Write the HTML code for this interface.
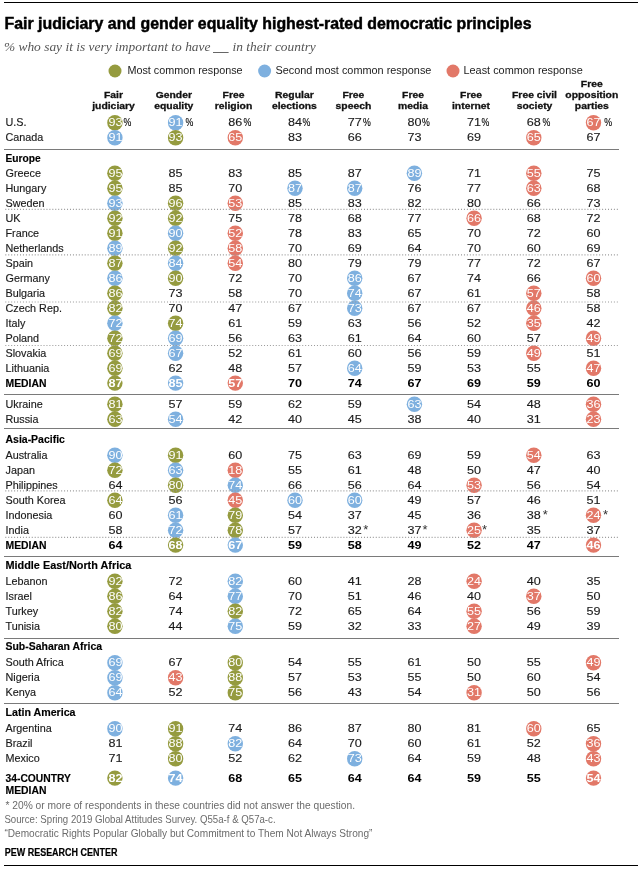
<!DOCTYPE html>
<html><head><meta charset="utf-8"><style>
html,body{margin:0;padding:0;background:#fff;width:640px;height:870px;overflow:hidden}
svg{display:block;will-change:transform}
text{font-family:"Liberation Sans",sans-serif}
</style></head><body>
<svg width="640" height="870" viewBox="0 0 640 870">
<rect width="640" height="870" fill="#fff"/>
<rect x="4" y="2.00" width="634" height="1" fill="#000"/>
<text transform="translate(4.50,28.50)" font-size="16" font-weight="bold" fill="#000" stroke="#000" stroke-width="0.45" textLength="527" lengthAdjust="spacingAndGlyphs">Fair judiciary and gender equality highest-rated democratic principles</text>
<text transform="translate(3.90,50.80)" style="font-family:&quot;Liberation Serif&quot;,serif" font-size="13.2" font-style="italic" fill="#555" textLength="206.6" lengthAdjust="spacingAndGlyphs">% who say it is very important to have</text>
<rect x="213" y="52" width="15.6" height="1" fill="#666"/>
<text transform="translate(232.50,50.80)" style="font-family:&quot;Liberation Serif&quot;,serif" font-size="13.2" font-style="italic" fill="#555" textLength="83.3" lengthAdjust="spacingAndGlyphs">in their country</text>
<circle cx="115.00" cy="71.00" r="6.5" fill="#959b3f"/>
<text transform="translate(127.40,74.20)" font-size="10" fill="#222" textLength="115.2" lengthAdjust="spacingAndGlyphs">Most common response</text>
<circle cx="264.60" cy="71.00" r="6.5" fill="#7eb0df"/>
<text transform="translate(275.40,74.20)" font-size="10" fill="#222" textLength="156" lengthAdjust="spacingAndGlyphs">Second most common response</text>
<circle cx="453.00" cy="71.00" r="6.5" fill="#e27868"/>
<text transform="translate(463.50,74.20)" font-size="10" fill="#222" textLength="119.2" lengthAdjust="spacingAndGlyphs">Least common response</text>
<text transform="translate(113.50,98.00) scale(1.060,1)" font-size="9.8" font-weight="bold" text-anchor="middle" fill="#111" stroke="#111" stroke-width="0.3">Fair</text>
<text transform="translate(113.50,109.25) scale(1.060,1)" font-size="9.8" font-weight="bold" text-anchor="middle" fill="#111" stroke="#111" stroke-width="0.3">judiciary</text>
<text transform="translate(173.80,98.00) scale(1.060,1)" font-size="9.8" font-weight="bold" text-anchor="middle" fill="#111" stroke="#111" stroke-width="0.3">Gender</text>
<text transform="translate(173.80,109.25) scale(1.060,1)" font-size="9.8" font-weight="bold" text-anchor="middle" fill="#111" stroke="#111" stroke-width="0.3">equality</text>
<text transform="translate(233.50,98.00) scale(1.060,1)" font-size="9.8" font-weight="bold" text-anchor="middle" fill="#111" stroke="#111" stroke-width="0.3">Free</text>
<text transform="translate(233.50,109.25) scale(1.060,1)" font-size="9.8" font-weight="bold" text-anchor="middle" fill="#111" stroke="#111" stroke-width="0.3">religion</text>
<text transform="translate(294.40,98.00) scale(1.060,1)" font-size="9.8" font-weight="bold" text-anchor="middle" fill="#111" stroke="#111" stroke-width="0.3">Regular</text>
<text transform="translate(294.40,109.25) scale(1.060,1)" font-size="9.8" font-weight="bold" text-anchor="middle" fill="#111" stroke="#111" stroke-width="0.3">elections</text>
<text transform="translate(353.40,98.00) scale(1.060,1)" font-size="9.8" font-weight="bold" text-anchor="middle" fill="#111" stroke="#111" stroke-width="0.3">Free</text>
<text transform="translate(353.40,109.25) scale(1.060,1)" font-size="9.8" font-weight="bold" text-anchor="middle" fill="#111" stroke="#111" stroke-width="0.3">speech</text>
<text transform="translate(413.00,98.00) scale(1.060,1)" font-size="9.8" font-weight="bold" text-anchor="middle" fill="#111" stroke="#111" stroke-width="0.3">Free</text>
<text transform="translate(413.00,109.25) scale(1.060,1)" font-size="9.8" font-weight="bold" text-anchor="middle" fill="#111" stroke="#111" stroke-width="0.3">media</text>
<text transform="translate(471.00,98.00) scale(1.060,1)" font-size="9.8" font-weight="bold" text-anchor="middle" fill="#111" stroke="#111" stroke-width="0.3">Free</text>
<text transform="translate(471.00,109.25) scale(1.060,1)" font-size="9.8" font-weight="bold" text-anchor="middle" fill="#111" stroke="#111" stroke-width="0.3">internet</text>
<text transform="translate(534.50,98.00) scale(1.060,1)" font-size="9.8" font-weight="bold" text-anchor="middle" fill="#111" stroke="#111" stroke-width="0.3">Free civil</text>
<text transform="translate(534.50,109.25) scale(1.060,1)" font-size="9.8" font-weight="bold" text-anchor="middle" fill="#111" stroke="#111" stroke-width="0.3">society</text>
<text transform="translate(591.80,86.75) scale(1.060,1)" font-size="9.8" font-weight="bold" text-anchor="middle" fill="#111" stroke="#111" stroke-width="0.3">Free</text>
<text transform="translate(591.80,98.00) scale(1.060,1)" font-size="9.8" font-weight="bold" text-anchor="middle" fill="#111" stroke="#111" stroke-width="0.3">opposition</text>
<text transform="translate(591.80,109.25) scale(1.060,1)" font-size="9.8" font-weight="bold" text-anchor="middle" fill="#111" stroke="#111" stroke-width="0.3">parties</text>
<text transform="translate(5.50,126.00) scale(1.030,1)" font-size="10.5" fill="#1a1a1a" stroke="#1a1a1a" stroke-width="0.15">U.S.</text>
<circle cx="114.90" cy="122.70" r="7.7" fill="#959b3f"/>
<text transform="translate(115.40,126.00) scale(1.200,1)" font-size="10.5" text-anchor="middle" fill="#fff">93</text>
<text transform="translate(123.40,126.00) scale(0.840,1)" font-size="10.5" fill="#000" stroke="#000" stroke-width="0.12">%</text>
<circle cx="175.60" cy="122.70" r="7.7" fill="#7eb0df"/>
<text transform="translate(175.60,126.00) scale(1.200,1)" font-size="10.5" text-anchor="middle" fill="#fff">91</text>
<text transform="translate(185.60,126.00) scale(0.840,1)" font-size="10.5" fill="#000" stroke="#000" stroke-width="0.12">%</text>
<text transform="translate(235.30,126.00) scale(1.200,1)" font-size="10.5" text-anchor="middle" fill="#1a1a1a" stroke="#1a1a1a" stroke-width="0.12">86</text>
<text transform="translate(243.50,126.00) scale(0.840,1)" font-size="10.5" fill="#000" stroke="#000" stroke-width="0.12">%</text>
<text transform="translate(295.00,126.00) scale(1.200,1)" font-size="10.5" text-anchor="middle" fill="#1a1a1a" stroke="#1a1a1a" stroke-width="0.12">84</text>
<text transform="translate(302.50,126.00) scale(0.840,1)" font-size="10.5" fill="#000" stroke="#000" stroke-width="0.12">%</text>
<text transform="translate(354.70,126.00) scale(1.200,1)" font-size="10.5" text-anchor="middle" fill="#1a1a1a" stroke="#1a1a1a" stroke-width="0.12">77</text>
<text transform="translate(363.00,126.00) scale(0.840,1)" font-size="10.5" fill="#000" stroke="#000" stroke-width="0.12">%</text>
<text transform="translate(414.40,126.00) scale(1.200,1)" font-size="10.5" text-anchor="middle" fill="#1a1a1a" stroke="#1a1a1a" stroke-width="0.12">80</text>
<text transform="translate(422.00,126.00) scale(0.840,1)" font-size="10.5" fill="#000" stroke="#000" stroke-width="0.12">%</text>
<text transform="translate(474.10,126.00) scale(1.200,1)" font-size="10.5" text-anchor="middle" fill="#1a1a1a" stroke="#1a1a1a" stroke-width="0.12">71</text>
<text transform="translate(481.50,126.00) scale(0.840,1)" font-size="10.5" fill="#000" stroke="#000" stroke-width="0.12">%</text>
<text transform="translate(533.80,126.00) scale(1.200,1)" font-size="10.5" text-anchor="middle" fill="#1a1a1a" stroke="#1a1a1a" stroke-width="0.12">68</text>
<text transform="translate(542.40,126.00) scale(0.840,1)" font-size="10.5" fill="#000" stroke="#000" stroke-width="0.12">%</text>
<circle cx="593.50" cy="122.70" r="7.7" fill="#e27868"/>
<text transform="translate(593.50,126.00) scale(1.200,1)" font-size="10.5" text-anchor="middle" fill="#fff">67</text>
<text transform="translate(604.30,126.00) scale(0.840,1)" font-size="10.5" fill="#000" stroke="#000" stroke-width="0.12">%</text>
<text transform="translate(5.50,141.00) scale(1.030,1)" font-size="10.5" fill="#1a1a1a" stroke="#1a1a1a" stroke-width="0.15">Canada</text>
<circle cx="114.90" cy="137.70" r="7.7" fill="#7eb0df"/>
<text transform="translate(115.40,141.00) scale(1.200,1)" font-size="10.5" text-anchor="middle" fill="#fff">91</text>
<circle cx="175.60" cy="137.70" r="7.7" fill="#959b3f"/>
<text transform="translate(175.60,141.00) scale(1.200,1)" font-size="10.5" text-anchor="middle" fill="#fff">93</text>
<circle cx="235.30" cy="137.70" r="7.7" fill="#e27868"/>
<text transform="translate(235.30,141.00) scale(1.200,1)" font-size="10.5" text-anchor="middle" fill="#fff">65</text>
<text transform="translate(295.00,141.00) scale(1.200,1)" font-size="10.5" text-anchor="middle" fill="#1a1a1a" stroke="#1a1a1a" stroke-width="0.12">83</text>
<text transform="translate(354.70,141.00) scale(1.200,1)" font-size="10.5" text-anchor="middle" fill="#1a1a1a" stroke="#1a1a1a" stroke-width="0.12">66</text>
<text transform="translate(414.40,141.00) scale(1.200,1)" font-size="10.5" text-anchor="middle" fill="#1a1a1a" stroke="#1a1a1a" stroke-width="0.12">73</text>
<text transform="translate(474.10,141.00) scale(1.200,1)" font-size="10.5" text-anchor="middle" fill="#1a1a1a" stroke="#1a1a1a" stroke-width="0.12">69</text>
<circle cx="533.80" cy="137.70" r="7.7" fill="#e27868"/>
<text transform="translate(533.80,141.00) scale(1.200,1)" font-size="10.5" text-anchor="middle" fill="#fff">65</text>
<text transform="translate(593.50,141.00) scale(1.200,1)" font-size="10.5" text-anchor="middle" fill="#1a1a1a" stroke="#1a1a1a" stroke-width="0.12">67</text>
<rect x="4" y="149.00" width="615" height="1" fill="#7a7a7a"/>
<text transform="translate(5.50,161.50)" font-size="10.2" font-weight="bold" fill="#000" stroke="#000" stroke-width="0.15" textLength="35.2" lengthAdjust="spacingAndGlyphs">Europe</text>
<text transform="translate(5.50,176.50) scale(1.030,1)" font-size="10.5" fill="#1a1a1a" stroke="#1a1a1a" stroke-width="0.15">Greece</text>
<circle cx="114.90" cy="173.20" r="7.7" fill="#959b3f"/>
<text transform="translate(115.40,176.50) scale(1.200,1)" font-size="10.5" text-anchor="middle" fill="#fff">95</text>
<text transform="translate(175.60,176.50) scale(1.200,1)" font-size="10.5" text-anchor="middle" fill="#1a1a1a" stroke="#1a1a1a" stroke-width="0.12">85</text>
<text transform="translate(235.30,176.50) scale(1.200,1)" font-size="10.5" text-anchor="middle" fill="#1a1a1a" stroke="#1a1a1a" stroke-width="0.12">83</text>
<text transform="translate(295.00,176.50) scale(1.200,1)" font-size="10.5" text-anchor="middle" fill="#1a1a1a" stroke="#1a1a1a" stroke-width="0.12">85</text>
<text transform="translate(354.70,176.50) scale(1.200,1)" font-size="10.5" text-anchor="middle" fill="#1a1a1a" stroke="#1a1a1a" stroke-width="0.12">87</text>
<circle cx="414.40" cy="173.20" r="7.7" fill="#7eb0df"/>
<text transform="translate(414.40,176.50) scale(1.200,1)" font-size="10.5" text-anchor="middle" fill="#fff">89</text>
<text transform="translate(474.10,176.50) scale(1.200,1)" font-size="10.5" text-anchor="middle" fill="#1a1a1a" stroke="#1a1a1a" stroke-width="0.12">71</text>
<circle cx="533.80" cy="173.20" r="7.7" fill="#e27868"/>
<text transform="translate(533.80,176.50) scale(1.200,1)" font-size="10.5" text-anchor="middle" fill="#fff">55</text>
<text transform="translate(593.50,176.50) scale(1.200,1)" font-size="10.5" text-anchor="middle" fill="#1a1a1a" stroke="#1a1a1a" stroke-width="0.12">75</text>
<text transform="translate(5.50,191.50) scale(1.030,1)" font-size="10.5" fill="#1a1a1a" stroke="#1a1a1a" stroke-width="0.15">Hungary</text>
<circle cx="114.90" cy="188.20" r="7.7" fill="#959b3f"/>
<text transform="translate(115.40,191.50) scale(1.200,1)" font-size="10.5" text-anchor="middle" fill="#fff">95</text>
<text transform="translate(175.60,191.50) scale(1.200,1)" font-size="10.5" text-anchor="middle" fill="#1a1a1a" stroke="#1a1a1a" stroke-width="0.12">85</text>
<text transform="translate(235.30,191.50) scale(1.200,1)" font-size="10.5" text-anchor="middle" fill="#1a1a1a" stroke="#1a1a1a" stroke-width="0.12">70</text>
<circle cx="295.00" cy="188.20" r="7.7" fill="#7eb0df"/>
<text transform="translate(295.00,191.50) scale(1.200,1)" font-size="10.5" text-anchor="middle" fill="#fff">87</text>
<circle cx="354.70" cy="188.20" r="7.7" fill="#7eb0df"/>
<text transform="translate(354.70,191.50) scale(1.200,1)" font-size="10.5" text-anchor="middle" fill="#fff">87</text>
<text transform="translate(414.40,191.50) scale(1.200,1)" font-size="10.5" text-anchor="middle" fill="#1a1a1a" stroke="#1a1a1a" stroke-width="0.12">76</text>
<text transform="translate(474.10,191.50) scale(1.200,1)" font-size="10.5" text-anchor="middle" fill="#1a1a1a" stroke="#1a1a1a" stroke-width="0.12">77</text>
<circle cx="533.80" cy="188.20" r="7.7" fill="#e27868"/>
<text transform="translate(533.80,191.50) scale(1.200,1)" font-size="10.5" text-anchor="middle" fill="#fff">63</text>
<text transform="translate(593.50,191.50) scale(1.200,1)" font-size="10.5" text-anchor="middle" fill="#1a1a1a" stroke="#1a1a1a" stroke-width="0.12">68</text>
<text transform="translate(5.50,206.50) scale(1.030,1)" font-size="10.5" fill="#1a1a1a" stroke="#1a1a1a" stroke-width="0.15">Sweden</text>
<circle cx="114.90" cy="203.20" r="7.7" fill="#7eb0df"/>
<text transform="translate(115.40,206.50) scale(1.200,1)" font-size="10.5" text-anchor="middle" fill="#fff">93</text>
<circle cx="175.60" cy="203.20" r="7.7" fill="#959b3f"/>
<text transform="translate(175.60,206.50) scale(1.200,1)" font-size="10.5" text-anchor="middle" fill="#fff">96</text>
<circle cx="235.30" cy="203.20" r="7.7" fill="#e27868"/>
<text transform="translate(235.30,206.50) scale(1.200,1)" font-size="10.5" text-anchor="middle" fill="#fff">53</text>
<text transform="translate(295.00,206.50) scale(1.200,1)" font-size="10.5" text-anchor="middle" fill="#1a1a1a" stroke="#1a1a1a" stroke-width="0.12">85</text>
<text transform="translate(354.70,206.50) scale(1.200,1)" font-size="10.5" text-anchor="middle" fill="#1a1a1a" stroke="#1a1a1a" stroke-width="0.12">83</text>
<text transform="translate(414.40,206.50) scale(1.200,1)" font-size="10.5" text-anchor="middle" fill="#1a1a1a" stroke="#1a1a1a" stroke-width="0.12">82</text>
<text transform="translate(474.10,206.50) scale(1.200,1)" font-size="10.5" text-anchor="middle" fill="#1a1a1a" stroke="#1a1a1a" stroke-width="0.12">80</text>
<text transform="translate(533.80,206.50) scale(1.200,1)" font-size="10.5" text-anchor="middle" fill="#1a1a1a" stroke="#1a1a1a" stroke-width="0.12">66</text>
<text transform="translate(593.50,206.50) scale(1.200,1)" font-size="10.5" text-anchor="middle" fill="#1a1a1a" stroke="#1a1a1a" stroke-width="0.12">73</text>
<text transform="translate(5.50,221.50) scale(1.030,1)" font-size="10.5" fill="#1a1a1a" stroke="#1a1a1a" stroke-width="0.15">UK</text>
<circle cx="114.90" cy="218.20" r="7.7" fill="#959b3f"/>
<text transform="translate(115.40,221.50) scale(1.200,1)" font-size="10.5" text-anchor="middle" fill="#fff">92</text>
<circle cx="175.60" cy="218.20" r="7.7" fill="#959b3f"/>
<text transform="translate(175.60,221.50) scale(1.200,1)" font-size="10.5" text-anchor="middle" fill="#fff">92</text>
<text transform="translate(235.30,221.50) scale(1.200,1)" font-size="10.5" text-anchor="middle" fill="#1a1a1a" stroke="#1a1a1a" stroke-width="0.12">75</text>
<text transform="translate(295.00,221.50) scale(1.200,1)" font-size="10.5" text-anchor="middle" fill="#1a1a1a" stroke="#1a1a1a" stroke-width="0.12">78</text>
<text transform="translate(354.70,221.50) scale(1.200,1)" font-size="10.5" text-anchor="middle" fill="#1a1a1a" stroke="#1a1a1a" stroke-width="0.12">68</text>
<text transform="translate(414.40,221.50) scale(1.200,1)" font-size="10.5" text-anchor="middle" fill="#1a1a1a" stroke="#1a1a1a" stroke-width="0.12">77</text>
<circle cx="474.10" cy="218.20" r="7.7" fill="#e27868"/>
<text transform="translate(474.10,221.50) scale(1.200,1)" font-size="10.5" text-anchor="middle" fill="#fff">66</text>
<text transform="translate(533.80,221.50) scale(1.200,1)" font-size="10.5" text-anchor="middle" fill="#1a1a1a" stroke="#1a1a1a" stroke-width="0.12">68</text>
<text transform="translate(593.50,221.50) scale(1.200,1)" font-size="10.5" text-anchor="middle" fill="#1a1a1a" stroke="#1a1a1a" stroke-width="0.12">72</text>
<text transform="translate(5.50,236.50) scale(1.030,1)" font-size="10.5" fill="#1a1a1a" stroke="#1a1a1a" stroke-width="0.15">France</text>
<circle cx="114.90" cy="233.20" r="7.7" fill="#959b3f"/>
<text transform="translate(115.40,236.50) scale(1.200,1)" font-size="10.5" text-anchor="middle" fill="#fff">91</text>
<circle cx="175.60" cy="233.20" r="7.7" fill="#7eb0df"/>
<text transform="translate(175.60,236.50) scale(1.200,1)" font-size="10.5" text-anchor="middle" fill="#fff">90</text>
<circle cx="235.30" cy="233.20" r="7.7" fill="#e27868"/>
<text transform="translate(235.30,236.50) scale(1.200,1)" font-size="10.5" text-anchor="middle" fill="#fff">52</text>
<text transform="translate(295.00,236.50) scale(1.200,1)" font-size="10.5" text-anchor="middle" fill="#1a1a1a" stroke="#1a1a1a" stroke-width="0.12">78</text>
<text transform="translate(354.70,236.50) scale(1.200,1)" font-size="10.5" text-anchor="middle" fill="#1a1a1a" stroke="#1a1a1a" stroke-width="0.12">83</text>
<text transform="translate(414.40,236.50) scale(1.200,1)" font-size="10.5" text-anchor="middle" fill="#1a1a1a" stroke="#1a1a1a" stroke-width="0.12">65</text>
<text transform="translate(474.10,236.50) scale(1.200,1)" font-size="10.5" text-anchor="middle" fill="#1a1a1a" stroke="#1a1a1a" stroke-width="0.12">70</text>
<text transform="translate(533.80,236.50) scale(1.200,1)" font-size="10.5" text-anchor="middle" fill="#1a1a1a" stroke="#1a1a1a" stroke-width="0.12">72</text>
<text transform="translate(593.50,236.50) scale(1.200,1)" font-size="10.5" text-anchor="middle" fill="#1a1a1a" stroke="#1a1a1a" stroke-width="0.12">60</text>
<text transform="translate(5.50,251.50) scale(1.030,1)" font-size="10.5" fill="#1a1a1a" stroke="#1a1a1a" stroke-width="0.15">Netherlands</text>
<circle cx="114.90" cy="248.20" r="7.7" fill="#7eb0df"/>
<text transform="translate(115.40,251.50) scale(1.200,1)" font-size="10.5" text-anchor="middle" fill="#fff">89</text>
<circle cx="175.60" cy="248.20" r="7.7" fill="#959b3f"/>
<text transform="translate(175.60,251.50) scale(1.200,1)" font-size="10.5" text-anchor="middle" fill="#fff">92</text>
<circle cx="235.30" cy="248.20" r="7.7" fill="#e27868"/>
<text transform="translate(235.30,251.50) scale(1.200,1)" font-size="10.5" text-anchor="middle" fill="#fff">58</text>
<text transform="translate(295.00,251.50) scale(1.200,1)" font-size="10.5" text-anchor="middle" fill="#1a1a1a" stroke="#1a1a1a" stroke-width="0.12">70</text>
<text transform="translate(354.70,251.50) scale(1.200,1)" font-size="10.5" text-anchor="middle" fill="#1a1a1a" stroke="#1a1a1a" stroke-width="0.12">69</text>
<text transform="translate(414.40,251.50) scale(1.200,1)" font-size="10.5" text-anchor="middle" fill="#1a1a1a" stroke="#1a1a1a" stroke-width="0.12">64</text>
<text transform="translate(474.10,251.50) scale(1.200,1)" font-size="10.5" text-anchor="middle" fill="#1a1a1a" stroke="#1a1a1a" stroke-width="0.12">70</text>
<text transform="translate(533.80,251.50) scale(1.200,1)" font-size="10.5" text-anchor="middle" fill="#1a1a1a" stroke="#1a1a1a" stroke-width="0.12">60</text>
<text transform="translate(593.50,251.50) scale(1.200,1)" font-size="10.5" text-anchor="middle" fill="#1a1a1a" stroke="#1a1a1a" stroke-width="0.12">69</text>
<text transform="translate(5.50,266.50) scale(1.030,1)" font-size="10.5" fill="#1a1a1a" stroke="#1a1a1a" stroke-width="0.15">Spain</text>
<circle cx="114.90" cy="263.20" r="7.7" fill="#959b3f"/>
<text transform="translate(115.40,266.50) scale(1.200,1)" font-size="10.5" text-anchor="middle" fill="#fff">87</text>
<circle cx="175.60" cy="263.20" r="7.7" fill="#7eb0df"/>
<text transform="translate(175.60,266.50) scale(1.200,1)" font-size="10.5" text-anchor="middle" fill="#fff">84</text>
<circle cx="235.30" cy="263.20" r="7.7" fill="#e27868"/>
<text transform="translate(235.30,266.50) scale(1.200,1)" font-size="10.5" text-anchor="middle" fill="#fff">54</text>
<text transform="translate(295.00,266.50) scale(1.200,1)" font-size="10.5" text-anchor="middle" fill="#1a1a1a" stroke="#1a1a1a" stroke-width="0.12">80</text>
<text transform="translate(354.70,266.50) scale(1.200,1)" font-size="10.5" text-anchor="middle" fill="#1a1a1a" stroke="#1a1a1a" stroke-width="0.12">79</text>
<text transform="translate(414.40,266.50) scale(1.200,1)" font-size="10.5" text-anchor="middle" fill="#1a1a1a" stroke="#1a1a1a" stroke-width="0.12">79</text>
<text transform="translate(474.10,266.50) scale(1.200,1)" font-size="10.5" text-anchor="middle" fill="#1a1a1a" stroke="#1a1a1a" stroke-width="0.12">77</text>
<text transform="translate(533.80,266.50) scale(1.200,1)" font-size="10.5" text-anchor="middle" fill="#1a1a1a" stroke="#1a1a1a" stroke-width="0.12">72</text>
<text transform="translate(593.50,266.50) scale(1.200,1)" font-size="10.5" text-anchor="middle" fill="#1a1a1a" stroke="#1a1a1a" stroke-width="0.12">67</text>
<text transform="translate(5.50,281.50) scale(1.030,1)" font-size="10.5" fill="#1a1a1a" stroke="#1a1a1a" stroke-width="0.15">Germany</text>
<circle cx="114.90" cy="278.20" r="7.7" fill="#7eb0df"/>
<text transform="translate(115.40,281.50) scale(1.200,1)" font-size="10.5" text-anchor="middle" fill="#fff">86</text>
<circle cx="175.60" cy="278.20" r="7.7" fill="#959b3f"/>
<text transform="translate(175.60,281.50) scale(1.200,1)" font-size="10.5" text-anchor="middle" fill="#fff">90</text>
<text transform="translate(235.30,281.50) scale(1.200,1)" font-size="10.5" text-anchor="middle" fill="#1a1a1a" stroke="#1a1a1a" stroke-width="0.12">72</text>
<text transform="translate(295.00,281.50) scale(1.200,1)" font-size="10.5" text-anchor="middle" fill="#1a1a1a" stroke="#1a1a1a" stroke-width="0.12">70</text>
<circle cx="354.70" cy="278.20" r="7.7" fill="#7eb0df"/>
<text transform="translate(354.70,281.50) scale(1.200,1)" font-size="10.5" text-anchor="middle" fill="#fff">86</text>
<text transform="translate(414.40,281.50) scale(1.200,1)" font-size="10.5" text-anchor="middle" fill="#1a1a1a" stroke="#1a1a1a" stroke-width="0.12">67</text>
<text transform="translate(474.10,281.50) scale(1.200,1)" font-size="10.5" text-anchor="middle" fill="#1a1a1a" stroke="#1a1a1a" stroke-width="0.12">74</text>
<text transform="translate(533.80,281.50) scale(1.200,1)" font-size="10.5" text-anchor="middle" fill="#1a1a1a" stroke="#1a1a1a" stroke-width="0.12">66</text>
<circle cx="593.50" cy="278.20" r="7.7" fill="#e27868"/>
<text transform="translate(593.50,281.50) scale(1.200,1)" font-size="10.5" text-anchor="middle" fill="#fff">60</text>
<text transform="translate(5.50,296.50) scale(1.030,1)" font-size="10.5" fill="#1a1a1a" stroke="#1a1a1a" stroke-width="0.15">Bulgaria</text>
<circle cx="114.90" cy="293.20" r="7.7" fill="#959b3f"/>
<text transform="translate(115.40,296.50) scale(1.200,1)" font-size="10.5" text-anchor="middle" fill="#fff">86</text>
<text transform="translate(175.60,296.50) scale(1.200,1)" font-size="10.5" text-anchor="middle" fill="#1a1a1a" stroke="#1a1a1a" stroke-width="0.12">73</text>
<text transform="translate(235.30,296.50) scale(1.200,1)" font-size="10.5" text-anchor="middle" fill="#1a1a1a" stroke="#1a1a1a" stroke-width="0.12">58</text>
<text transform="translate(295.00,296.50) scale(1.200,1)" font-size="10.5" text-anchor="middle" fill="#1a1a1a" stroke="#1a1a1a" stroke-width="0.12">70</text>
<circle cx="354.70" cy="293.20" r="7.7" fill="#7eb0df"/>
<text transform="translate(354.70,296.50) scale(1.200,1)" font-size="10.5" text-anchor="middle" fill="#fff">74</text>
<text transform="translate(414.40,296.50) scale(1.200,1)" font-size="10.5" text-anchor="middle" fill="#1a1a1a" stroke="#1a1a1a" stroke-width="0.12">67</text>
<text transform="translate(474.10,296.50) scale(1.200,1)" font-size="10.5" text-anchor="middle" fill="#1a1a1a" stroke="#1a1a1a" stroke-width="0.12">61</text>
<circle cx="533.80" cy="293.20" r="7.7" fill="#e27868"/>
<text transform="translate(533.80,296.50) scale(1.200,1)" font-size="10.5" text-anchor="middle" fill="#fff">57</text>
<text transform="translate(593.50,296.50) scale(1.200,1)" font-size="10.5" text-anchor="middle" fill="#1a1a1a" stroke="#1a1a1a" stroke-width="0.12">58</text>
<text transform="translate(5.50,311.50) scale(1.030,1)" font-size="10.5" fill="#1a1a1a" stroke="#1a1a1a" stroke-width="0.15">Czech Rep.</text>
<circle cx="114.90" cy="308.20" r="7.7" fill="#959b3f"/>
<text transform="translate(115.40,311.50) scale(1.200,1)" font-size="10.5" text-anchor="middle" fill="#fff">82</text>
<text transform="translate(175.60,311.50) scale(1.200,1)" font-size="10.5" text-anchor="middle" fill="#1a1a1a" stroke="#1a1a1a" stroke-width="0.12">70</text>
<text transform="translate(235.30,311.50) scale(1.200,1)" font-size="10.5" text-anchor="middle" fill="#1a1a1a" stroke="#1a1a1a" stroke-width="0.12">47</text>
<text transform="translate(295.00,311.50) scale(1.200,1)" font-size="10.5" text-anchor="middle" fill="#1a1a1a" stroke="#1a1a1a" stroke-width="0.12">67</text>
<circle cx="354.70" cy="308.20" r="7.7" fill="#7eb0df"/>
<text transform="translate(354.70,311.50) scale(1.200,1)" font-size="10.5" text-anchor="middle" fill="#fff">73</text>
<text transform="translate(414.40,311.50) scale(1.200,1)" font-size="10.5" text-anchor="middle" fill="#1a1a1a" stroke="#1a1a1a" stroke-width="0.12">67</text>
<text transform="translate(474.10,311.50) scale(1.200,1)" font-size="10.5" text-anchor="middle" fill="#1a1a1a" stroke="#1a1a1a" stroke-width="0.12">67</text>
<circle cx="533.80" cy="308.20" r="7.7" fill="#e27868"/>
<text transform="translate(533.80,311.50) scale(1.200,1)" font-size="10.5" text-anchor="middle" fill="#fff">46</text>
<text transform="translate(593.50,311.50) scale(1.200,1)" font-size="10.5" text-anchor="middle" fill="#1a1a1a" stroke="#1a1a1a" stroke-width="0.12">58</text>
<text transform="translate(5.50,326.50) scale(1.030,1)" font-size="10.5" fill="#1a1a1a" stroke="#1a1a1a" stroke-width="0.15">Italy</text>
<circle cx="114.90" cy="323.20" r="7.7" fill="#7eb0df"/>
<text transform="translate(115.40,326.50) scale(1.200,1)" font-size="10.5" text-anchor="middle" fill="#fff">72</text>
<circle cx="175.60" cy="323.20" r="7.7" fill="#959b3f"/>
<text transform="translate(175.60,326.50) scale(1.200,1)" font-size="10.5" text-anchor="middle" fill="#fff">74</text>
<text transform="translate(235.30,326.50) scale(1.200,1)" font-size="10.5" text-anchor="middle" fill="#1a1a1a" stroke="#1a1a1a" stroke-width="0.12">61</text>
<text transform="translate(295.00,326.50) scale(1.200,1)" font-size="10.5" text-anchor="middle" fill="#1a1a1a" stroke="#1a1a1a" stroke-width="0.12">59</text>
<text transform="translate(354.70,326.50) scale(1.200,1)" font-size="10.5" text-anchor="middle" fill="#1a1a1a" stroke="#1a1a1a" stroke-width="0.12">63</text>
<text transform="translate(414.40,326.50) scale(1.200,1)" font-size="10.5" text-anchor="middle" fill="#1a1a1a" stroke="#1a1a1a" stroke-width="0.12">56</text>
<text transform="translate(474.10,326.50) scale(1.200,1)" font-size="10.5" text-anchor="middle" fill="#1a1a1a" stroke="#1a1a1a" stroke-width="0.12">52</text>
<circle cx="533.80" cy="323.20" r="7.7" fill="#e27868"/>
<text transform="translate(533.80,326.50) scale(1.200,1)" font-size="10.5" text-anchor="middle" fill="#fff">35</text>
<text transform="translate(593.50,326.50) scale(1.200,1)" font-size="10.5" text-anchor="middle" fill="#1a1a1a" stroke="#1a1a1a" stroke-width="0.12">42</text>
<text transform="translate(5.50,341.50) scale(1.030,1)" font-size="10.5" fill="#1a1a1a" stroke="#1a1a1a" stroke-width="0.15">Poland</text>
<circle cx="114.90" cy="338.20" r="7.7" fill="#959b3f"/>
<text transform="translate(115.40,341.50) scale(1.200,1)" font-size="10.5" text-anchor="middle" fill="#fff">72</text>
<circle cx="175.60" cy="338.20" r="7.7" fill="#7eb0df"/>
<text transform="translate(175.60,341.50) scale(1.200,1)" font-size="10.5" text-anchor="middle" fill="#fff">69</text>
<text transform="translate(235.30,341.50) scale(1.200,1)" font-size="10.5" text-anchor="middle" fill="#1a1a1a" stroke="#1a1a1a" stroke-width="0.12">56</text>
<text transform="translate(295.00,341.50) scale(1.200,1)" font-size="10.5" text-anchor="middle" fill="#1a1a1a" stroke="#1a1a1a" stroke-width="0.12">63</text>
<text transform="translate(354.70,341.50) scale(1.200,1)" font-size="10.5" text-anchor="middle" fill="#1a1a1a" stroke="#1a1a1a" stroke-width="0.12">61</text>
<text transform="translate(414.40,341.50) scale(1.200,1)" font-size="10.5" text-anchor="middle" fill="#1a1a1a" stroke="#1a1a1a" stroke-width="0.12">64</text>
<text transform="translate(474.10,341.50) scale(1.200,1)" font-size="10.5" text-anchor="middle" fill="#1a1a1a" stroke="#1a1a1a" stroke-width="0.12">60</text>
<text transform="translate(533.80,341.50) scale(1.200,1)" font-size="10.5" text-anchor="middle" fill="#1a1a1a" stroke="#1a1a1a" stroke-width="0.12">57</text>
<circle cx="593.50" cy="338.20" r="7.7" fill="#e27868"/>
<text transform="translate(593.50,341.50) scale(1.200,1)" font-size="10.5" text-anchor="middle" fill="#fff">49</text>
<text transform="translate(5.50,356.50) scale(1.030,1)" font-size="10.5" fill="#1a1a1a" stroke="#1a1a1a" stroke-width="0.15">Slovakia</text>
<circle cx="114.90" cy="353.20" r="7.7" fill="#959b3f"/>
<text transform="translate(115.40,356.50) scale(1.200,1)" font-size="10.5" text-anchor="middle" fill="#fff">69</text>
<circle cx="175.60" cy="353.20" r="7.7" fill="#7eb0df"/>
<text transform="translate(175.60,356.50) scale(1.200,1)" font-size="10.5" text-anchor="middle" fill="#fff">67</text>
<text transform="translate(235.30,356.50) scale(1.200,1)" font-size="10.5" text-anchor="middle" fill="#1a1a1a" stroke="#1a1a1a" stroke-width="0.12">52</text>
<text transform="translate(295.00,356.50) scale(1.200,1)" font-size="10.5" text-anchor="middle" fill="#1a1a1a" stroke="#1a1a1a" stroke-width="0.12">61</text>
<text transform="translate(354.70,356.50) scale(1.200,1)" font-size="10.5" text-anchor="middle" fill="#1a1a1a" stroke="#1a1a1a" stroke-width="0.12">60</text>
<text transform="translate(414.40,356.50) scale(1.200,1)" font-size="10.5" text-anchor="middle" fill="#1a1a1a" stroke="#1a1a1a" stroke-width="0.12">56</text>
<text transform="translate(474.10,356.50) scale(1.200,1)" font-size="10.5" text-anchor="middle" fill="#1a1a1a" stroke="#1a1a1a" stroke-width="0.12">59</text>
<circle cx="533.80" cy="353.20" r="7.7" fill="#e27868"/>
<text transform="translate(533.80,356.50) scale(1.200,1)" font-size="10.5" text-anchor="middle" fill="#fff">49</text>
<text transform="translate(593.50,356.50) scale(1.200,1)" font-size="10.5" text-anchor="middle" fill="#1a1a1a" stroke="#1a1a1a" stroke-width="0.12">51</text>
<text transform="translate(5.50,371.50) scale(1.030,1)" font-size="10.5" fill="#1a1a1a" stroke="#1a1a1a" stroke-width="0.15">Lithuania</text>
<circle cx="114.90" cy="368.20" r="7.7" fill="#959b3f"/>
<text transform="translate(115.40,371.50) scale(1.200,1)" font-size="10.5" text-anchor="middle" fill="#fff">69</text>
<text transform="translate(175.60,371.50) scale(1.200,1)" font-size="10.5" text-anchor="middle" fill="#1a1a1a" stroke="#1a1a1a" stroke-width="0.12">62</text>
<text transform="translate(235.30,371.50) scale(1.200,1)" font-size="10.5" text-anchor="middle" fill="#1a1a1a" stroke="#1a1a1a" stroke-width="0.12">48</text>
<text transform="translate(295.00,371.50) scale(1.200,1)" font-size="10.5" text-anchor="middle" fill="#1a1a1a" stroke="#1a1a1a" stroke-width="0.12">57</text>
<circle cx="354.70" cy="368.20" r="7.7" fill="#7eb0df"/>
<text transform="translate(354.70,371.50) scale(1.200,1)" font-size="10.5" text-anchor="middle" fill="#fff">64</text>
<text transform="translate(414.40,371.50) scale(1.200,1)" font-size="10.5" text-anchor="middle" fill="#1a1a1a" stroke="#1a1a1a" stroke-width="0.12">59</text>
<text transform="translate(474.10,371.50) scale(1.200,1)" font-size="10.5" text-anchor="middle" fill="#1a1a1a" stroke="#1a1a1a" stroke-width="0.12">53</text>
<text transform="translate(533.80,371.50) scale(1.200,1)" font-size="10.5" text-anchor="middle" fill="#1a1a1a" stroke="#1a1a1a" stroke-width="0.12">55</text>
<circle cx="593.50" cy="368.20" r="7.7" fill="#e27868"/>
<text transform="translate(593.50,371.50) scale(1.200,1)" font-size="10.5" text-anchor="middle" fill="#fff">47</text>
<text transform="translate(5.50,387.00) scale(1.020,1)" font-size="10.2" font-weight="bold" fill="#000" stroke="#000" stroke-width="0.15">MEDIAN</text>
<circle cx="114.90" cy="383.10" r="7.7" fill="#959b3f"/>
<text transform="translate(115.40,387.00) scale(1.200,1)" font-size="10.5" font-weight="bold" text-anchor="middle" fill="#fff">87</text>
<circle cx="175.60" cy="383.10" r="7.7" fill="#7eb0df"/>
<text transform="translate(175.60,387.00) scale(1.200,1)" font-size="10.5" font-weight="bold" text-anchor="middle" fill="#fff">85</text>
<circle cx="235.30" cy="383.10" r="7.7" fill="#e27868"/>
<text transform="translate(235.30,387.00) scale(1.200,1)" font-size="10.5" font-weight="bold" text-anchor="middle" fill="#fff">57</text>
<text transform="translate(295.00,387.00) scale(1.200,1)" font-size="10.5" font-weight="bold" text-anchor="middle" fill="#000">70</text>
<text transform="translate(354.70,387.00) scale(1.200,1)" font-size="10.5" font-weight="bold" text-anchor="middle" fill="#000">74</text>
<text transform="translate(414.40,387.00) scale(1.200,1)" font-size="10.5" font-weight="bold" text-anchor="middle" fill="#000">67</text>
<text transform="translate(474.10,387.00) scale(1.200,1)" font-size="10.5" font-weight="bold" text-anchor="middle" fill="#000">69</text>
<text transform="translate(533.80,387.00) scale(1.200,1)" font-size="10.5" font-weight="bold" text-anchor="middle" fill="#000">59</text>
<text transform="translate(593.50,387.00) scale(1.200,1)" font-size="10.5" font-weight="bold" text-anchor="middle" fill="#000">60</text>
<line x1="5.3" y1="209.40" x2="618" y2="209.40" stroke="#9a9a9a" stroke-width="1.2" stroke-dasharray="1 1.94"/>
<line x1="5.3" y1="254.80" x2="618" y2="254.80" stroke="#9a9a9a" stroke-width="1.2" stroke-dasharray="1 1.94"/>
<line x1="5.3" y1="302.00" x2="618" y2="302.00" stroke="#9a9a9a" stroke-width="1.2" stroke-dasharray="1 1.94"/>
<line x1="5.3" y1="345.50" x2="618" y2="345.50" stroke="#9a9a9a" stroke-width="1.2" stroke-dasharray="1 1.94"/>
<rect x="4" y="394.00" width="615" height="1" fill="#7a7a7a"/>
<text transform="translate(5.50,407.50) scale(1.030,1)" font-size="10.5" fill="#1a1a1a" stroke="#1a1a1a" stroke-width="0.15">Ukraine</text>
<circle cx="114.90" cy="404.20" r="7.7" fill="#959b3f"/>
<text transform="translate(115.40,407.50) scale(1.200,1)" font-size="10.5" text-anchor="middle" fill="#fff">81</text>
<text transform="translate(175.60,407.50) scale(1.200,1)" font-size="10.5" text-anchor="middle" fill="#1a1a1a" stroke="#1a1a1a" stroke-width="0.12">57</text>
<text transform="translate(235.30,407.50) scale(1.200,1)" font-size="10.5" text-anchor="middle" fill="#1a1a1a" stroke="#1a1a1a" stroke-width="0.12">59</text>
<text transform="translate(295.00,407.50) scale(1.200,1)" font-size="10.5" text-anchor="middle" fill="#1a1a1a" stroke="#1a1a1a" stroke-width="0.12">62</text>
<text transform="translate(354.70,407.50) scale(1.200,1)" font-size="10.5" text-anchor="middle" fill="#1a1a1a" stroke="#1a1a1a" stroke-width="0.12">59</text>
<circle cx="414.40" cy="404.20" r="7.7" fill="#7eb0df"/>
<text transform="translate(414.40,407.50) scale(1.200,1)" font-size="10.5" text-anchor="middle" fill="#fff">63</text>
<text transform="translate(474.10,407.50) scale(1.200,1)" font-size="10.5" text-anchor="middle" fill="#1a1a1a" stroke="#1a1a1a" stroke-width="0.12">54</text>
<text transform="translate(533.80,407.50) scale(1.200,1)" font-size="10.5" text-anchor="middle" fill="#1a1a1a" stroke="#1a1a1a" stroke-width="0.12">48</text>
<circle cx="593.50" cy="404.20" r="7.7" fill="#e27868"/>
<text transform="translate(593.50,407.50) scale(1.200,1)" font-size="10.5" text-anchor="middle" fill="#fff">36</text>
<text transform="translate(5.50,422.50) scale(1.030,1)" font-size="10.5" fill="#1a1a1a" stroke="#1a1a1a" stroke-width="0.15">Russia</text>
<circle cx="114.90" cy="419.20" r="7.7" fill="#959b3f"/>
<text transform="translate(115.40,422.50) scale(1.200,1)" font-size="10.5" text-anchor="middle" fill="#fff">63</text>
<circle cx="175.60" cy="419.20" r="7.7" fill="#7eb0df"/>
<text transform="translate(175.60,422.50) scale(1.200,1)" font-size="10.5" text-anchor="middle" fill="#fff">54</text>
<text transform="translate(235.30,422.50) scale(1.200,1)" font-size="10.5" text-anchor="middle" fill="#1a1a1a" stroke="#1a1a1a" stroke-width="0.12">42</text>
<text transform="translate(295.00,422.50) scale(1.200,1)" font-size="10.5" text-anchor="middle" fill="#1a1a1a" stroke="#1a1a1a" stroke-width="0.12">40</text>
<text transform="translate(354.70,422.50) scale(1.200,1)" font-size="10.5" text-anchor="middle" fill="#1a1a1a" stroke="#1a1a1a" stroke-width="0.12">45</text>
<text transform="translate(414.40,422.50) scale(1.200,1)" font-size="10.5" text-anchor="middle" fill="#1a1a1a" stroke="#1a1a1a" stroke-width="0.12">38</text>
<text transform="translate(474.10,422.50) scale(1.200,1)" font-size="10.5" text-anchor="middle" fill="#1a1a1a" stroke="#1a1a1a" stroke-width="0.12">40</text>
<text transform="translate(533.80,422.50) scale(1.200,1)" font-size="10.5" text-anchor="middle" fill="#1a1a1a" stroke="#1a1a1a" stroke-width="0.12">31</text>
<circle cx="593.50" cy="419.20" r="7.7" fill="#e27868"/>
<text transform="translate(593.50,422.50) scale(1.200,1)" font-size="10.5" text-anchor="middle" fill="#fff">23</text>
<rect x="4" y="428.00" width="615" height="1" fill="#7a7a7a"/>
<text transform="translate(5.50,443.00)" font-size="10.2" font-weight="bold" fill="#000" stroke="#000" stroke-width="0.15" textLength="59.4" lengthAdjust="spacingAndGlyphs">Asia-Pacific</text>
<text transform="translate(5.50,458.50) scale(1.030,1)" font-size="10.5" fill="#1a1a1a" stroke="#1a1a1a" stroke-width="0.15">Australia</text>
<circle cx="114.90" cy="455.20" r="7.7" fill="#7eb0df"/>
<text transform="translate(115.40,458.50) scale(1.200,1)" font-size="10.5" text-anchor="middle" fill="#fff">90</text>
<circle cx="175.60" cy="455.20" r="7.7" fill="#959b3f"/>
<text transform="translate(175.60,458.50) scale(1.200,1)" font-size="10.5" text-anchor="middle" fill="#fff">91</text>
<text transform="translate(235.30,458.50) scale(1.200,1)" font-size="10.5" text-anchor="middle" fill="#1a1a1a" stroke="#1a1a1a" stroke-width="0.12">60</text>
<text transform="translate(295.00,458.50) scale(1.200,1)" font-size="10.5" text-anchor="middle" fill="#1a1a1a" stroke="#1a1a1a" stroke-width="0.12">75</text>
<text transform="translate(354.70,458.50) scale(1.200,1)" font-size="10.5" text-anchor="middle" fill="#1a1a1a" stroke="#1a1a1a" stroke-width="0.12">63</text>
<text transform="translate(414.40,458.50) scale(1.200,1)" font-size="10.5" text-anchor="middle" fill="#1a1a1a" stroke="#1a1a1a" stroke-width="0.12">69</text>
<text transform="translate(474.10,458.50) scale(1.200,1)" font-size="10.5" text-anchor="middle" fill="#1a1a1a" stroke="#1a1a1a" stroke-width="0.12">59</text>
<circle cx="533.80" cy="455.20" r="7.7" fill="#e27868"/>
<text transform="translate(533.80,458.50) scale(1.200,1)" font-size="10.5" text-anchor="middle" fill="#fff">54</text>
<text transform="translate(593.50,458.50) scale(1.200,1)" font-size="10.5" text-anchor="middle" fill="#1a1a1a" stroke="#1a1a1a" stroke-width="0.12">63</text>
<text transform="translate(5.50,473.50) scale(1.030,1)" font-size="10.5" fill="#1a1a1a" stroke="#1a1a1a" stroke-width="0.15">Japan</text>
<circle cx="114.90" cy="470.20" r="7.7" fill="#959b3f"/>
<text transform="translate(115.40,473.50) scale(1.200,1)" font-size="10.5" text-anchor="middle" fill="#fff">72</text>
<circle cx="175.60" cy="470.20" r="7.7" fill="#7eb0df"/>
<text transform="translate(175.60,473.50) scale(1.200,1)" font-size="10.5" text-anchor="middle" fill="#fff">63</text>
<circle cx="235.30" cy="470.20" r="7.7" fill="#e27868"/>
<text transform="translate(235.30,473.50) scale(1.200,1)" font-size="10.5" text-anchor="middle" fill="#fff">18</text>
<text transform="translate(295.00,473.50) scale(1.200,1)" font-size="10.5" text-anchor="middle" fill="#1a1a1a" stroke="#1a1a1a" stroke-width="0.12">55</text>
<text transform="translate(354.70,473.50) scale(1.200,1)" font-size="10.5" text-anchor="middle" fill="#1a1a1a" stroke="#1a1a1a" stroke-width="0.12">61</text>
<text transform="translate(414.40,473.50) scale(1.200,1)" font-size="10.5" text-anchor="middle" fill="#1a1a1a" stroke="#1a1a1a" stroke-width="0.12">48</text>
<text transform="translate(474.10,473.50) scale(1.200,1)" font-size="10.5" text-anchor="middle" fill="#1a1a1a" stroke="#1a1a1a" stroke-width="0.12">50</text>
<text transform="translate(533.80,473.50) scale(1.200,1)" font-size="10.5" text-anchor="middle" fill="#1a1a1a" stroke="#1a1a1a" stroke-width="0.12">47</text>
<text transform="translate(593.50,473.50) scale(1.200,1)" font-size="10.5" text-anchor="middle" fill="#1a1a1a" stroke="#1a1a1a" stroke-width="0.12">40</text>
<text transform="translate(5.50,488.50) scale(1.030,1)" font-size="10.5" fill="#1a1a1a" stroke="#1a1a1a" stroke-width="0.15">Philippines</text>
<text transform="translate(115.40,488.50) scale(1.200,1)" font-size="10.5" text-anchor="middle" fill="#1a1a1a" stroke="#1a1a1a" stroke-width="0.12">64</text>
<circle cx="175.60" cy="485.20" r="7.7" fill="#959b3f"/>
<text transform="translate(175.60,488.50) scale(1.200,1)" font-size="10.5" text-anchor="middle" fill="#fff">80</text>
<circle cx="235.30" cy="485.20" r="7.7" fill="#7eb0df"/>
<text transform="translate(235.30,488.50) scale(1.200,1)" font-size="10.5" text-anchor="middle" fill="#fff">74</text>
<text transform="translate(295.00,488.50) scale(1.200,1)" font-size="10.5" text-anchor="middle" fill="#1a1a1a" stroke="#1a1a1a" stroke-width="0.12">66</text>
<text transform="translate(354.70,488.50) scale(1.200,1)" font-size="10.5" text-anchor="middle" fill="#1a1a1a" stroke="#1a1a1a" stroke-width="0.12">56</text>
<text transform="translate(414.40,488.50) scale(1.200,1)" font-size="10.5" text-anchor="middle" fill="#1a1a1a" stroke="#1a1a1a" stroke-width="0.12">64</text>
<circle cx="474.10" cy="485.20" r="7.7" fill="#e27868"/>
<text transform="translate(474.10,488.50) scale(1.200,1)" font-size="10.5" text-anchor="middle" fill="#fff">53</text>
<text transform="translate(533.80,488.50) scale(1.200,1)" font-size="10.5" text-anchor="middle" fill="#1a1a1a" stroke="#1a1a1a" stroke-width="0.12">56</text>
<text transform="translate(593.50,488.50) scale(1.200,1)" font-size="10.5" text-anchor="middle" fill="#1a1a1a" stroke="#1a1a1a" stroke-width="0.12">54</text>
<text transform="translate(5.50,503.50) scale(1.030,1)" font-size="10.5" fill="#1a1a1a" stroke="#1a1a1a" stroke-width="0.15">South Korea</text>
<circle cx="114.90" cy="500.20" r="7.7" fill="#959b3f"/>
<text transform="translate(115.40,503.50) scale(1.200,1)" font-size="10.5" text-anchor="middle" fill="#fff">64</text>
<text transform="translate(175.60,503.50) scale(1.200,1)" font-size="10.5" text-anchor="middle" fill="#1a1a1a" stroke="#1a1a1a" stroke-width="0.12">56</text>
<circle cx="235.30" cy="500.20" r="7.7" fill="#e27868"/>
<text transform="translate(235.30,503.50) scale(1.200,1)" font-size="10.5" text-anchor="middle" fill="#fff">45</text>
<circle cx="295.00" cy="500.20" r="7.7" fill="#7eb0df"/>
<text transform="translate(295.00,503.50) scale(1.200,1)" font-size="10.5" text-anchor="middle" fill="#fff">60</text>
<circle cx="354.70" cy="500.20" r="7.7" fill="#7eb0df"/>
<text transform="translate(354.70,503.50) scale(1.200,1)" font-size="10.5" text-anchor="middle" fill="#fff">60</text>
<text transform="translate(414.40,503.50) scale(1.200,1)" font-size="10.5" text-anchor="middle" fill="#1a1a1a" stroke="#1a1a1a" stroke-width="0.12">49</text>
<text transform="translate(474.10,503.50) scale(1.200,1)" font-size="10.5" text-anchor="middle" fill="#1a1a1a" stroke="#1a1a1a" stroke-width="0.12">57</text>
<text transform="translate(533.80,503.50) scale(1.200,1)" font-size="10.5" text-anchor="middle" fill="#1a1a1a" stroke="#1a1a1a" stroke-width="0.12">46</text>
<text transform="translate(593.50,503.50) scale(1.200,1)" font-size="10.5" text-anchor="middle" fill="#1a1a1a" stroke="#1a1a1a" stroke-width="0.12">51</text>
<text transform="translate(5.50,518.50) scale(1.030,1)" font-size="10.5" fill="#1a1a1a" stroke="#1a1a1a" stroke-width="0.15">Indonesia</text>
<text transform="translate(115.40,518.50) scale(1.200,1)" font-size="10.5" text-anchor="middle" fill="#1a1a1a" stroke="#1a1a1a" stroke-width="0.12">60</text>
<circle cx="175.60" cy="515.20" r="7.7" fill="#7eb0df"/>
<text transform="translate(175.60,518.50) scale(1.200,1)" font-size="10.5" text-anchor="middle" fill="#fff">61</text>
<circle cx="235.30" cy="515.20" r="7.7" fill="#959b3f"/>
<text transform="translate(235.30,518.50) scale(1.200,1)" font-size="10.5" text-anchor="middle" fill="#fff">79</text>
<text transform="translate(295.00,518.50) scale(1.200,1)" font-size="10.5" text-anchor="middle" fill="#1a1a1a" stroke="#1a1a1a" stroke-width="0.12">54</text>
<text transform="translate(354.70,518.50) scale(1.200,1)" font-size="10.5" text-anchor="middle" fill="#1a1a1a" stroke="#1a1a1a" stroke-width="0.12">37</text>
<text transform="translate(414.40,518.50) scale(1.200,1)" font-size="10.5" text-anchor="middle" fill="#1a1a1a" stroke="#1a1a1a" stroke-width="0.12">45</text>
<text transform="translate(474.10,518.50) scale(1.200,1)" font-size="10.5" text-anchor="middle" fill="#1a1a1a" stroke="#1a1a1a" stroke-width="0.12">36</text>
<text transform="translate(533.80,518.50) scale(1.200,1)" font-size="10.5" text-anchor="middle" fill="#1a1a1a" stroke="#1a1a1a" stroke-width="0.12">38</text>
<text transform="translate(542.70,518.70)" font-size="13" fill="#333">*</text>
<circle cx="593.50" cy="515.20" r="7.7" fill="#e27868"/>
<text transform="translate(593.50,518.50) scale(1.200,1)" font-size="10.5" text-anchor="middle" fill="#fff">24</text>
<text transform="translate(602.90,518.70)" font-size="13" fill="#333">*</text>
<text transform="translate(5.50,533.50) scale(1.030,1)" font-size="10.5" fill="#1a1a1a" stroke="#1a1a1a" stroke-width="0.15">India</text>
<text transform="translate(115.40,533.50) scale(1.200,1)" font-size="10.5" text-anchor="middle" fill="#1a1a1a" stroke="#1a1a1a" stroke-width="0.12">58</text>
<circle cx="175.60" cy="530.20" r="7.7" fill="#7eb0df"/>
<text transform="translate(175.60,533.50) scale(1.200,1)" font-size="10.5" text-anchor="middle" fill="#fff">72</text>
<circle cx="235.30" cy="530.20" r="7.7" fill="#959b3f"/>
<text transform="translate(235.30,533.50) scale(1.200,1)" font-size="10.5" text-anchor="middle" fill="#fff">78</text>
<text transform="translate(295.00,533.50) scale(1.200,1)" font-size="10.5" text-anchor="middle" fill="#1a1a1a" stroke="#1a1a1a" stroke-width="0.12">57</text>
<text transform="translate(354.70,533.50) scale(1.200,1)" font-size="10.5" text-anchor="middle" fill="#1a1a1a" stroke="#1a1a1a" stroke-width="0.12">32</text>
<text transform="translate(363.30,533.70)" font-size="13" fill="#333">*</text>
<text transform="translate(414.40,533.50) scale(1.200,1)" font-size="10.5" text-anchor="middle" fill="#1a1a1a" stroke="#1a1a1a" stroke-width="0.12">37</text>
<text transform="translate(422.40,533.70)" font-size="13" fill="#333">*</text>
<circle cx="474.10" cy="530.20" r="7.7" fill="#e27868"/>
<text transform="translate(474.10,533.50) scale(1.200,1)" font-size="10.5" text-anchor="middle" fill="#fff">25</text>
<text transform="translate(481.90,533.70)" font-size="13" fill="#333">*</text>
<text transform="translate(533.80,533.50) scale(1.200,1)" font-size="10.5" text-anchor="middle" fill="#1a1a1a" stroke="#1a1a1a" stroke-width="0.12">35</text>
<text transform="translate(593.50,533.50) scale(1.200,1)" font-size="10.5" text-anchor="middle" fill="#1a1a1a" stroke="#1a1a1a" stroke-width="0.12">37</text>
<line x1="5.3" y1="490.90" x2="618" y2="490.90" stroke="#9a9a9a" stroke-width="1.2" stroke-dasharray="1 1.94"/>
<line x1="5.3" y1="537.40" x2="618" y2="537.40" stroke="#9a9a9a" stroke-width="1.2" stroke-dasharray="1 1.94"/>
<text transform="translate(5.50,549.00) scale(1.020,1)" font-size="10.2" font-weight="bold" fill="#000" stroke="#000" stroke-width="0.15">MEDIAN</text>
<text transform="translate(115.40,549.00) scale(1.200,1)" font-size="10.5" font-weight="bold" text-anchor="middle" fill="#000">64</text>
<circle cx="175.60" cy="545.10" r="7.7" fill="#959b3f"/>
<text transform="translate(175.60,549.00) scale(1.200,1)" font-size="10.5" font-weight="bold" text-anchor="middle" fill="#fff">68</text>
<circle cx="235.30" cy="545.10" r="7.7" fill="#7eb0df"/>
<text transform="translate(235.30,549.00) scale(1.200,1)" font-size="10.5" font-weight="bold" text-anchor="middle" fill="#fff">67</text>
<text transform="translate(295.00,549.00) scale(1.200,1)" font-size="10.5" font-weight="bold" text-anchor="middle" fill="#000">59</text>
<text transform="translate(354.70,549.00) scale(1.200,1)" font-size="10.5" font-weight="bold" text-anchor="middle" fill="#000">58</text>
<text transform="translate(414.40,549.00) scale(1.200,1)" font-size="10.5" font-weight="bold" text-anchor="middle" fill="#000">49</text>
<text transform="translate(474.10,549.00) scale(1.200,1)" font-size="10.5" font-weight="bold" text-anchor="middle" fill="#000">52</text>
<text transform="translate(533.80,549.00) scale(1.200,1)" font-size="10.5" font-weight="bold" text-anchor="middle" fill="#000">47</text>
<circle cx="593.50" cy="545.10" r="7.7" fill="#e27868"/>
<text transform="translate(593.50,549.00) scale(1.200,1)" font-size="10.5" font-weight="bold" text-anchor="middle" fill="#fff">46</text>
<rect x="4" y="556.00" width="615" height="1" fill="#7a7a7a"/>
<text transform="translate(5.50,569.40)" font-size="10.2" font-weight="bold" fill="#000" stroke="#000" stroke-width="0.15" textLength="125.8" lengthAdjust="spacingAndGlyphs">Middle East/North Africa</text>
<text transform="translate(5.50,584.60) scale(1.030,1)" font-size="10.5" fill="#1a1a1a" stroke="#1a1a1a" stroke-width="0.15">Lebanon</text>
<circle cx="114.90" cy="581.30" r="7.7" fill="#959b3f"/>
<text transform="translate(115.40,584.60) scale(1.200,1)" font-size="10.5" text-anchor="middle" fill="#fff">92</text>
<text transform="translate(175.60,584.60) scale(1.200,1)" font-size="10.5" text-anchor="middle" fill="#1a1a1a" stroke="#1a1a1a" stroke-width="0.12">72</text>
<circle cx="235.30" cy="581.30" r="7.7" fill="#7eb0df"/>
<text transform="translate(235.30,584.60) scale(1.200,1)" font-size="10.5" text-anchor="middle" fill="#fff">82</text>
<text transform="translate(295.00,584.60) scale(1.200,1)" font-size="10.5" text-anchor="middle" fill="#1a1a1a" stroke="#1a1a1a" stroke-width="0.12">60</text>
<text transform="translate(354.70,584.60) scale(1.200,1)" font-size="10.5" text-anchor="middle" fill="#1a1a1a" stroke="#1a1a1a" stroke-width="0.12">41</text>
<text transform="translate(414.40,584.60) scale(1.200,1)" font-size="10.5" text-anchor="middle" fill="#1a1a1a" stroke="#1a1a1a" stroke-width="0.12">28</text>
<circle cx="474.10" cy="581.30" r="7.7" fill="#e27868"/>
<text transform="translate(474.10,584.60) scale(1.200,1)" font-size="10.5" text-anchor="middle" fill="#fff">24</text>
<text transform="translate(533.80,584.60) scale(1.200,1)" font-size="10.5" text-anchor="middle" fill="#1a1a1a" stroke="#1a1a1a" stroke-width="0.12">40</text>
<text transform="translate(593.50,584.60) scale(1.200,1)" font-size="10.5" text-anchor="middle" fill="#1a1a1a" stroke="#1a1a1a" stroke-width="0.12">35</text>
<text transform="translate(5.50,599.60) scale(1.030,1)" font-size="10.5" fill="#1a1a1a" stroke="#1a1a1a" stroke-width="0.15">Israel</text>
<circle cx="114.90" cy="596.30" r="7.7" fill="#959b3f"/>
<text transform="translate(115.40,599.60) scale(1.200,1)" font-size="10.5" text-anchor="middle" fill="#fff">86</text>
<text transform="translate(175.60,599.60) scale(1.200,1)" font-size="10.5" text-anchor="middle" fill="#1a1a1a" stroke="#1a1a1a" stroke-width="0.12">64</text>
<circle cx="235.30" cy="596.30" r="7.7" fill="#7eb0df"/>
<text transform="translate(235.30,599.60) scale(1.200,1)" font-size="10.5" text-anchor="middle" fill="#fff">77</text>
<text transform="translate(295.00,599.60) scale(1.200,1)" font-size="10.5" text-anchor="middle" fill="#1a1a1a" stroke="#1a1a1a" stroke-width="0.12">70</text>
<text transform="translate(354.70,599.60) scale(1.200,1)" font-size="10.5" text-anchor="middle" fill="#1a1a1a" stroke="#1a1a1a" stroke-width="0.12">51</text>
<text transform="translate(414.40,599.60) scale(1.200,1)" font-size="10.5" text-anchor="middle" fill="#1a1a1a" stroke="#1a1a1a" stroke-width="0.12">46</text>
<text transform="translate(474.10,599.60) scale(1.200,1)" font-size="10.5" text-anchor="middle" fill="#1a1a1a" stroke="#1a1a1a" stroke-width="0.12">40</text>
<circle cx="533.80" cy="596.30" r="7.7" fill="#e27868"/>
<text transform="translate(533.80,599.60) scale(1.200,1)" font-size="10.5" text-anchor="middle" fill="#fff">37</text>
<text transform="translate(593.50,599.60) scale(1.200,1)" font-size="10.5" text-anchor="middle" fill="#1a1a1a" stroke="#1a1a1a" stroke-width="0.12">50</text>
<text transform="translate(5.50,614.60) scale(1.030,1)" font-size="10.5" fill="#1a1a1a" stroke="#1a1a1a" stroke-width="0.15">Turkey</text>
<circle cx="114.90" cy="611.30" r="7.7" fill="#959b3f"/>
<text transform="translate(115.40,614.60) scale(1.200,1)" font-size="10.5" text-anchor="middle" fill="#fff">82</text>
<text transform="translate(175.60,614.60) scale(1.200,1)" font-size="10.5" text-anchor="middle" fill="#1a1a1a" stroke="#1a1a1a" stroke-width="0.12">74</text>
<circle cx="235.30" cy="611.30" r="7.7" fill="#959b3f"/>
<text transform="translate(235.30,614.60) scale(1.200,1)" font-size="10.5" text-anchor="middle" fill="#fff">82</text>
<text transform="translate(295.00,614.60) scale(1.200,1)" font-size="10.5" text-anchor="middle" fill="#1a1a1a" stroke="#1a1a1a" stroke-width="0.12">72</text>
<text transform="translate(354.70,614.60) scale(1.200,1)" font-size="10.5" text-anchor="middle" fill="#1a1a1a" stroke="#1a1a1a" stroke-width="0.12">65</text>
<text transform="translate(414.40,614.60) scale(1.200,1)" font-size="10.5" text-anchor="middle" fill="#1a1a1a" stroke="#1a1a1a" stroke-width="0.12">64</text>
<circle cx="474.10" cy="611.30" r="7.7" fill="#e27868"/>
<text transform="translate(474.10,614.60) scale(1.200,1)" font-size="10.5" text-anchor="middle" fill="#fff">55</text>
<text transform="translate(533.80,614.60) scale(1.200,1)" font-size="10.5" text-anchor="middle" fill="#1a1a1a" stroke="#1a1a1a" stroke-width="0.12">56</text>
<text transform="translate(593.50,614.60) scale(1.200,1)" font-size="10.5" text-anchor="middle" fill="#1a1a1a" stroke="#1a1a1a" stroke-width="0.12">59</text>
<text transform="translate(5.50,629.60) scale(1.030,1)" font-size="10.5" fill="#1a1a1a" stroke="#1a1a1a" stroke-width="0.15">Tunisia</text>
<circle cx="114.90" cy="626.30" r="7.7" fill="#959b3f"/>
<text transform="translate(115.40,629.60) scale(1.200,1)" font-size="10.5" text-anchor="middle" fill="#fff">80</text>
<text transform="translate(175.60,629.60) scale(1.200,1)" font-size="10.5" text-anchor="middle" fill="#1a1a1a" stroke="#1a1a1a" stroke-width="0.12">44</text>
<circle cx="235.30" cy="626.30" r="7.7" fill="#7eb0df"/>
<text transform="translate(235.30,629.60) scale(1.200,1)" font-size="10.5" text-anchor="middle" fill="#fff">75</text>
<text transform="translate(295.00,629.60) scale(1.200,1)" font-size="10.5" text-anchor="middle" fill="#1a1a1a" stroke="#1a1a1a" stroke-width="0.12">59</text>
<text transform="translate(354.70,629.60) scale(1.200,1)" font-size="10.5" text-anchor="middle" fill="#1a1a1a" stroke="#1a1a1a" stroke-width="0.12">32</text>
<text transform="translate(414.40,629.60) scale(1.200,1)" font-size="10.5" text-anchor="middle" fill="#1a1a1a" stroke="#1a1a1a" stroke-width="0.12">33</text>
<circle cx="474.10" cy="626.30" r="7.7" fill="#e27868"/>
<text transform="translate(474.10,629.60) scale(1.200,1)" font-size="10.5" text-anchor="middle" fill="#fff">27</text>
<text transform="translate(533.80,629.60) scale(1.200,1)" font-size="10.5" text-anchor="middle" fill="#1a1a1a" stroke="#1a1a1a" stroke-width="0.12">49</text>
<text transform="translate(593.50,629.60) scale(1.200,1)" font-size="10.5" text-anchor="middle" fill="#1a1a1a" stroke="#1a1a1a" stroke-width="0.12">39</text>
<rect x="4" y="638.00" width="615" height="1" fill="#7a7a7a"/>
<text transform="translate(5.50,650.25)" font-size="10.2" font-weight="bold" fill="#000" stroke="#000" stroke-width="0.15" textLength="96.6" lengthAdjust="spacingAndGlyphs">Sub-Saharan Africa</text>
<text transform="translate(5.50,666.05) scale(1.030,1)" font-size="10.5" fill="#1a1a1a" stroke="#1a1a1a" stroke-width="0.15">South Africa</text>
<circle cx="114.90" cy="662.75" r="7.7" fill="#7eb0df"/>
<text transform="translate(115.40,666.05) scale(1.200,1)" font-size="10.5" text-anchor="middle" fill="#fff">69</text>
<text transform="translate(175.60,666.05) scale(1.200,1)" font-size="10.5" text-anchor="middle" fill="#1a1a1a" stroke="#1a1a1a" stroke-width="0.12">67</text>
<circle cx="235.30" cy="662.75" r="7.7" fill="#959b3f"/>
<text transform="translate(235.30,666.05) scale(1.200,1)" font-size="10.5" text-anchor="middle" fill="#fff">80</text>
<text transform="translate(295.00,666.05) scale(1.200,1)" font-size="10.5" text-anchor="middle" fill="#1a1a1a" stroke="#1a1a1a" stroke-width="0.12">54</text>
<text transform="translate(354.70,666.05) scale(1.200,1)" font-size="10.5" text-anchor="middle" fill="#1a1a1a" stroke="#1a1a1a" stroke-width="0.12">55</text>
<text transform="translate(414.40,666.05) scale(1.200,1)" font-size="10.5" text-anchor="middle" fill="#1a1a1a" stroke="#1a1a1a" stroke-width="0.12">61</text>
<text transform="translate(474.10,666.05) scale(1.200,1)" font-size="10.5" text-anchor="middle" fill="#1a1a1a" stroke="#1a1a1a" stroke-width="0.12">50</text>
<text transform="translate(533.80,666.05) scale(1.200,1)" font-size="10.5" text-anchor="middle" fill="#1a1a1a" stroke="#1a1a1a" stroke-width="0.12">55</text>
<circle cx="593.50" cy="662.75" r="7.7" fill="#e27868"/>
<text transform="translate(593.50,666.05) scale(1.200,1)" font-size="10.5" text-anchor="middle" fill="#fff">49</text>
<text transform="translate(5.50,681.05) scale(1.030,1)" font-size="10.5" fill="#1a1a1a" stroke="#1a1a1a" stroke-width="0.15">Nigeria</text>
<circle cx="114.90" cy="677.75" r="7.7" fill="#7eb0df"/>
<text transform="translate(115.40,681.05) scale(1.200,1)" font-size="10.5" text-anchor="middle" fill="#fff">69</text>
<circle cx="175.60" cy="677.75" r="7.7" fill="#e27868"/>
<text transform="translate(175.60,681.05) scale(1.200,1)" font-size="10.5" text-anchor="middle" fill="#fff">43</text>
<circle cx="235.30" cy="677.75" r="7.7" fill="#959b3f"/>
<text transform="translate(235.30,681.05) scale(1.200,1)" font-size="10.5" text-anchor="middle" fill="#fff">88</text>
<text transform="translate(295.00,681.05) scale(1.200,1)" font-size="10.5" text-anchor="middle" fill="#1a1a1a" stroke="#1a1a1a" stroke-width="0.12">57</text>
<text transform="translate(354.70,681.05) scale(1.200,1)" font-size="10.5" text-anchor="middle" fill="#1a1a1a" stroke="#1a1a1a" stroke-width="0.12">53</text>
<text transform="translate(414.40,681.05) scale(1.200,1)" font-size="10.5" text-anchor="middle" fill="#1a1a1a" stroke="#1a1a1a" stroke-width="0.12">55</text>
<text transform="translate(474.10,681.05) scale(1.200,1)" font-size="10.5" text-anchor="middle" fill="#1a1a1a" stroke="#1a1a1a" stroke-width="0.12">50</text>
<text transform="translate(533.80,681.05) scale(1.200,1)" font-size="10.5" text-anchor="middle" fill="#1a1a1a" stroke="#1a1a1a" stroke-width="0.12">60</text>
<text transform="translate(593.50,681.05) scale(1.200,1)" font-size="10.5" text-anchor="middle" fill="#1a1a1a" stroke="#1a1a1a" stroke-width="0.12">54</text>
<text transform="translate(5.50,696.05) scale(1.030,1)" font-size="10.5" fill="#1a1a1a" stroke="#1a1a1a" stroke-width="0.15">Kenya</text>
<circle cx="114.90" cy="692.75" r="7.7" fill="#7eb0df"/>
<text transform="translate(115.40,696.05) scale(1.200,1)" font-size="10.5" text-anchor="middle" fill="#fff">64</text>
<text transform="translate(175.60,696.05) scale(1.200,1)" font-size="10.5" text-anchor="middle" fill="#1a1a1a" stroke="#1a1a1a" stroke-width="0.12">52</text>
<circle cx="235.30" cy="692.75" r="7.7" fill="#959b3f"/>
<text transform="translate(235.30,696.05) scale(1.200,1)" font-size="10.5" text-anchor="middle" fill="#fff">75</text>
<text transform="translate(295.00,696.05) scale(1.200,1)" font-size="10.5" text-anchor="middle" fill="#1a1a1a" stroke="#1a1a1a" stroke-width="0.12">56</text>
<text transform="translate(354.70,696.05) scale(1.200,1)" font-size="10.5" text-anchor="middle" fill="#1a1a1a" stroke="#1a1a1a" stroke-width="0.12">43</text>
<text transform="translate(414.40,696.05) scale(1.200,1)" font-size="10.5" text-anchor="middle" fill="#1a1a1a" stroke="#1a1a1a" stroke-width="0.12">54</text>
<circle cx="474.10" cy="692.75" r="7.7" fill="#e27868"/>
<text transform="translate(474.10,696.05) scale(1.200,1)" font-size="10.5" text-anchor="middle" fill="#fff">31</text>
<text transform="translate(533.80,696.05) scale(1.200,1)" font-size="10.5" text-anchor="middle" fill="#1a1a1a" stroke="#1a1a1a" stroke-width="0.12">50</text>
<text transform="translate(593.50,696.05) scale(1.200,1)" font-size="10.5" text-anchor="middle" fill="#1a1a1a" stroke="#1a1a1a" stroke-width="0.12">56</text>
<rect x="4" y="703.00" width="615" height="1" fill="#7a7a7a"/>
<text transform="translate(5.50,716.30)" font-size="10.2" font-weight="bold" fill="#000" stroke="#000" stroke-width="0.15" textLength="70" lengthAdjust="spacingAndGlyphs">Latin America</text>
<text transform="translate(5.50,732.10) scale(1.030,1)" font-size="10.5" fill="#1a1a1a" stroke="#1a1a1a" stroke-width="0.15">Argentina</text>
<circle cx="114.90" cy="728.80" r="7.7" fill="#7eb0df"/>
<text transform="translate(115.40,732.10) scale(1.200,1)" font-size="10.5" text-anchor="middle" fill="#fff">90</text>
<circle cx="175.60" cy="728.80" r="7.7" fill="#959b3f"/>
<text transform="translate(175.60,732.10) scale(1.200,1)" font-size="10.5" text-anchor="middle" fill="#fff">91</text>
<text transform="translate(235.30,732.10) scale(1.200,1)" font-size="10.5" text-anchor="middle" fill="#1a1a1a" stroke="#1a1a1a" stroke-width="0.12">74</text>
<text transform="translate(295.00,732.10) scale(1.200,1)" font-size="10.5" text-anchor="middle" fill="#1a1a1a" stroke="#1a1a1a" stroke-width="0.12">86</text>
<text transform="translate(354.70,732.10) scale(1.200,1)" font-size="10.5" text-anchor="middle" fill="#1a1a1a" stroke="#1a1a1a" stroke-width="0.12">87</text>
<text transform="translate(414.40,732.10) scale(1.200,1)" font-size="10.5" text-anchor="middle" fill="#1a1a1a" stroke="#1a1a1a" stroke-width="0.12">80</text>
<text transform="translate(474.10,732.10) scale(1.200,1)" font-size="10.5" text-anchor="middle" fill="#1a1a1a" stroke="#1a1a1a" stroke-width="0.12">81</text>
<circle cx="533.80" cy="728.80" r="7.7" fill="#e27868"/>
<text transform="translate(533.80,732.10) scale(1.200,1)" font-size="10.5" text-anchor="middle" fill="#fff">60</text>
<text transform="translate(593.50,732.10) scale(1.200,1)" font-size="10.5" text-anchor="middle" fill="#1a1a1a" stroke="#1a1a1a" stroke-width="0.12">65</text>
<text transform="translate(5.50,747.10) scale(1.030,1)" font-size="10.5" fill="#1a1a1a" stroke="#1a1a1a" stroke-width="0.15">Brazil</text>
<text transform="translate(115.40,747.10) scale(1.200,1)" font-size="10.5" text-anchor="middle" fill="#1a1a1a" stroke="#1a1a1a" stroke-width="0.12">81</text>
<circle cx="175.60" cy="743.80" r="7.7" fill="#959b3f"/>
<text transform="translate(175.60,747.10) scale(1.200,1)" font-size="10.5" text-anchor="middle" fill="#fff">88</text>
<circle cx="235.30" cy="743.80" r="7.7" fill="#7eb0df"/>
<text transform="translate(235.30,747.10) scale(1.200,1)" font-size="10.5" text-anchor="middle" fill="#fff">82</text>
<text transform="translate(295.00,747.10) scale(1.200,1)" font-size="10.5" text-anchor="middle" fill="#1a1a1a" stroke="#1a1a1a" stroke-width="0.12">64</text>
<text transform="translate(354.70,747.10) scale(1.200,1)" font-size="10.5" text-anchor="middle" fill="#1a1a1a" stroke="#1a1a1a" stroke-width="0.12">70</text>
<text transform="translate(414.40,747.10) scale(1.200,1)" font-size="10.5" text-anchor="middle" fill="#1a1a1a" stroke="#1a1a1a" stroke-width="0.12">60</text>
<text transform="translate(474.10,747.10) scale(1.200,1)" font-size="10.5" text-anchor="middle" fill="#1a1a1a" stroke="#1a1a1a" stroke-width="0.12">61</text>
<text transform="translate(533.80,747.10) scale(1.200,1)" font-size="10.5" text-anchor="middle" fill="#1a1a1a" stroke="#1a1a1a" stroke-width="0.12">52</text>
<circle cx="593.50" cy="743.80" r="7.7" fill="#e27868"/>
<text transform="translate(593.50,747.10) scale(1.200,1)" font-size="10.5" text-anchor="middle" fill="#fff">36</text>
<text transform="translate(5.50,762.10) scale(1.030,1)" font-size="10.5" fill="#1a1a1a" stroke="#1a1a1a" stroke-width="0.15">Mexico</text>
<text transform="translate(115.40,762.10) scale(1.200,1)" font-size="10.5" text-anchor="middle" fill="#1a1a1a" stroke="#1a1a1a" stroke-width="0.12">71</text>
<circle cx="175.60" cy="758.80" r="7.7" fill="#959b3f"/>
<text transform="translate(175.60,762.10) scale(1.200,1)" font-size="10.5" text-anchor="middle" fill="#fff">80</text>
<text transform="translate(235.30,762.10) scale(1.200,1)" font-size="10.5" text-anchor="middle" fill="#1a1a1a" stroke="#1a1a1a" stroke-width="0.12">52</text>
<text transform="translate(295.00,762.10) scale(1.200,1)" font-size="10.5" text-anchor="middle" fill="#1a1a1a" stroke="#1a1a1a" stroke-width="0.12">62</text>
<circle cx="354.70" cy="758.80" r="7.7" fill="#7eb0df"/>
<text transform="translate(354.70,762.10) scale(1.200,1)" font-size="10.5" text-anchor="middle" fill="#fff">73</text>
<text transform="translate(414.40,762.10) scale(1.200,1)" font-size="10.5" text-anchor="middle" fill="#1a1a1a" stroke="#1a1a1a" stroke-width="0.12">64</text>
<text transform="translate(474.10,762.10) scale(1.200,1)" font-size="10.5" text-anchor="middle" fill="#1a1a1a" stroke="#1a1a1a" stroke-width="0.12">59</text>
<text transform="translate(533.80,762.10) scale(1.200,1)" font-size="10.5" text-anchor="middle" fill="#1a1a1a" stroke="#1a1a1a" stroke-width="0.12">48</text>
<circle cx="593.50" cy="758.80" r="7.7" fill="#e27868"/>
<text transform="translate(593.50,762.10) scale(1.200,1)" font-size="10.5" text-anchor="middle" fill="#fff">43</text>
<text transform="translate(5.50,782.00) scale(1.010,1)" font-size="10.2" font-weight="bold" fill="#000" stroke="#000" stroke-width="0.15">34-COUNTRY</text>
<text transform="translate(5.50,794.20) scale(1.020,1)" font-size="10.2" font-weight="bold" fill="#000" stroke="#000" stroke-width="0.15">MEDIAN</text>
<circle cx="114.90" cy="778.10" r="7.7" fill="#959b3f"/>
<text transform="translate(115.40,782.00) scale(1.200,1)" font-size="10.5" font-weight="bold" text-anchor="middle" fill="#fff">82</text>
<circle cx="175.60" cy="778.10" r="7.7" fill="#7eb0df"/>
<text transform="translate(175.60,782.00) scale(1.200,1)" font-size="10.5" font-weight="bold" text-anchor="middle" fill="#fff">74</text>
<text transform="translate(235.30,782.00) scale(1.200,1)" font-size="10.5" font-weight="bold" text-anchor="middle" fill="#000">68</text>
<text transform="translate(295.00,782.00) scale(1.200,1)" font-size="10.5" font-weight="bold" text-anchor="middle" fill="#000">65</text>
<text transform="translate(354.70,782.00) scale(1.200,1)" font-size="10.5" font-weight="bold" text-anchor="middle" fill="#000">64</text>
<text transform="translate(414.40,782.00) scale(1.200,1)" font-size="10.5" font-weight="bold" text-anchor="middle" fill="#000">64</text>
<text transform="translate(474.10,782.00) scale(1.200,1)" font-size="10.5" font-weight="bold" text-anchor="middle" fill="#000">59</text>
<text transform="translate(533.80,782.00) scale(1.200,1)" font-size="10.5" font-weight="bold" text-anchor="middle" fill="#000">55</text>
<circle cx="593.50" cy="778.10" r="7.7" fill="#e27868"/>
<text transform="translate(593.50,782.00) scale(1.200,1)" font-size="10.5" font-weight="bold" text-anchor="middle" fill="#fff">54</text>
<text transform="translate(5.50,809.00)" font-size="10.3" fill="#6b6b6b" textLength="349.5" lengthAdjust="spacingAndGlyphs">* 20% or more of respondents in these countries did not answer the question.</text>
<text transform="translate(4.40,822.70)" font-size="10.3" fill="#6b6b6b" textLength="271.2" lengthAdjust="spacingAndGlyphs">Source: Spring 2019 Global Attitudes Survey. Q55a-f &amp; Q57a-c.</text>
<text transform="translate(4.40,836.70)" font-size="10.3" fill="#6b6b6b" textLength="368" lengthAdjust="spacingAndGlyphs">“Democratic Rights Popular Globally but Commitment to Them Not Always Strong”</text>
<text transform="translate(4.70,855.80)" font-size="10.75" font-weight="bold" fill="#000" stroke="#000" stroke-width="0.2" textLength="112.8" lengthAdjust="spacingAndGlyphs">PEW RESEARCH CENTER</text>
<rect x="4" y="865.00" width="634" height="1" fill="#000"/>
</svg>
</body></html>
